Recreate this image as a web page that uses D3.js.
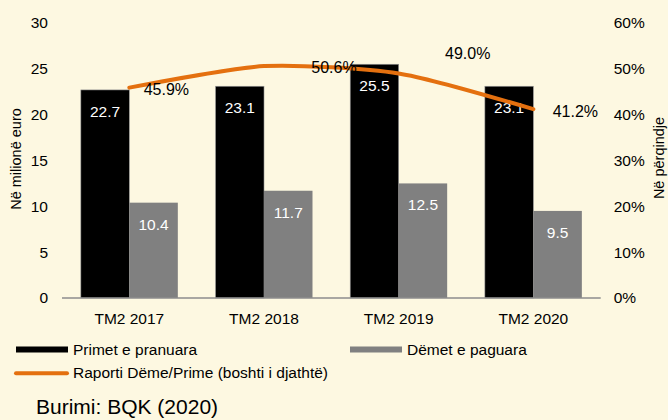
<!DOCTYPE html>
<html>
<head>
<meta charset="utf-8">
<script src="https://cdn.jsdelivr.net/npm/d3@7"></script>
<style>
  body { margin: 0; background: #fdf8e1; }
  svg { display: block; font-family: "Liberation Sans", Arial, sans-serif; }
</style>
</head>
<body>
<div class="canvas"></div>
<script>
const categories = ["TM2 2017", "TM2 2018", "TM2 2019", "TM2 2020"];
const primet = [22.7, 23.1, 25.5, 23.1];
const demet = [10.4, 11.7, 12.5, 9.5];
const raporti = [45.9, 50.6, 49.0, 41.2];
const leftTicks = [0, 5, 10, 15, 20, 25, 30];
const rightTicks = [0, 10, 20, 30, 40, 50, 60];

const dims = { w: 668, h: 420 };
const plot = { left: 62, right: 600.7, top: 23, bottom: 298 };

// label placement for the ratio line (dx, dy from the point)
const ratioLabelShift = [[37, 1], [70, 1], [69, -20], [42, 2]];

const svg = d3
  .select(".canvas")
  .append("svg")
  .attr("width", dims.w)
  .attr("height", dims.h);

svg.append("rect")
  .attr("width", dims.w)
  .attr("height", dims.h)
  .attr("fill", "#fdf8e1");

const x0 = d3
  .scaleBand()
  .domain(categories)
  .range([plot.left, plot.right])
  .paddingInner(0.28)
  .paddingOuter(0.14);

const x1 = d3
  .scaleBand()
  .domain(["primet", "demet"])
  .range([0, x0.bandwidth()]);

const yL = d3.scaleLinear().domain([0, 30]).range([plot.bottom, plot.top]);
const yR = d3.scaleLinear().domain([0, 60]).range([plot.bottom, plot.top]);

const fs = 15.5;

// left axis
const leftAxis = svg.append("g")
  .attr("transform", `translate(${plot.left}, 0)`)
  .call(d3.axisLeft(yL).tickValues(leftTicks).tickSize(0).tickPadding(14));
leftAxis.select(".domain").remove();
leftAxis.selectAll("text").attr("font-size", fs).attr("fill", "#000").attr("font-family", "Liberation Sans, Arial, sans-serif");

// right axis
const rightAxis = svg.append("g")
  .attr("transform", `translate(${plot.right}, 0)`)
  .call(d3.axisRight(yR).tickValues(rightTicks).tickSize(0).tickPadding(13).tickFormat(d => d + "%"));
rightAxis.select(".domain").remove();
rightAxis.selectAll("text").attr("font-size", fs).attr("fill", "#000").attr("font-family", "Liberation Sans, Arial, sans-serif");

// bars
const groups = svg.append("g")
  .selectAll("g")
  .data(categories)
  .join("g")
  .attr("transform", d => `translate(${x0(d)}, 0)`);

groups.append("rect")
  .attr("x", x1("primet"))
  .attr("y", (d, i) => yL(primet[i]))
  .attr("width", x1.bandwidth())
  .attr("height", (d, i) => yL(0) - yL(primet[i]))
  .attr("fill", "#000")
  .attr("stroke", "#9a9a9a")
  .attr("stroke-width", 0.6);

groups.append("rect")
  .attr("x", x1("demet"))
  .attr("y", (d, i) => yL(demet[i]))
  .attr("width", x1.bandwidth())
  .attr("height", (d, i) => yL(0) - yL(demet[i]))
  .attr("fill", "#808080");

groups.append("text")
  .attr("x", x1("primet") + x1.bandwidth() / 2)
  .attr("y", (d, i) => yL(primet[i]) + 27)
  .attr("text-anchor", "middle")
  .attr("font-size", fs)
  .attr("fill", "#fff")
  .text((d, i) => primet[i].toFixed(1));

groups.append("text")
  .attr("x", x1("demet") + x1.bandwidth() / 2)
  .attr("y", (d, i) => yL(demet[i]) + 27)
  .attr("text-anchor", "middle")
  .attr("font-size", fs)
  .attr("fill", "#fff")
  .text((d, i) => demet[i].toFixed(1));

// x axis line
svg.append("line")
  .attr("x1", plot.left)
  .attr("x2", plot.right)
  .attr("y1", yL(0))
  .attr("y2", yL(0))
  .attr("stroke", "#8c8c8c")
  .attr("stroke-width", 1.5);

svg.append("g")
  .selectAll("text")
  .data(categories)
  .join("text")
  .attr("x", d => x0(d) + x0.bandwidth() / 2)
  .attr("y", 324)
  .attr("text-anchor", "middle")
  .attr("font-size", fs)
  .text(d => d);

// ratio line
const cx = d => x0(d) + x0.bandwidth() / 2;
const line = d3
  .line()
  .x((d, i) => cx(categories[i]))
  .y(d => yR(d))
  .curve(d3.curveCardinal.tension(0.3));

svg.append("path")
  .datum(raporti)
  .attr("d", line)
  .attr("fill", "none")
  .attr("stroke", "#e4700f")
  .attr("stroke-width", 4)
  .attr("stroke-linecap", "round");

svg.append("g")
  .selectAll("text")
  .data(raporti)
  .join("text")
  .attr("x", (d, i) => cx(categories[i]) + ratioLabelShift[i][0])
  .attr("y", (d, i) => yR(d) + ratioLabelShift[i][1] + 6)
  .attr("text-anchor", "middle")
  .attr("font-size", fs + 0.5)
  .text(d => d.toFixed(1) + "%");

// axis titles
svg.append("text")
  .attr("transform", "translate(21, 159) rotate(-90)")
  .attr("text-anchor", "middle")
  .attr("font-size", 14.5)
  .text("Në milionë euro");

svg.append("text")
  .attr("transform", "translate(663.5, 158) rotate(-90)")
  .attr("text-anchor", "middle")
  .attr("font-size", 14.5)
  .text("Në përqindje");

// legend
const legend = svg.append("g");
legend.append("rect").attr("x", 16).attr("y", 346.5).attr("width", 52).attr("height", 6).attr("fill", "#000");
legend.append("text").attr("x", 73).attr("y", 355).attr("font-size", fs).text("Primet e pranuara");
legend.append("rect").attr("x", 350).attr("y", 346.5).attr("width", 52).attr("height", 6).attr("fill", "#808080");
legend.append("text").attr("x", 407).attr("y", 355).attr("font-size", fs).text("Dëmet e paguara");
legend.append("line").attr("x1", 16).attr("x2", 67).attr("y1", 373.3).attr("y2", 373.3)
  .attr("stroke", "#e4700f").attr("stroke-width", 4).attr("stroke-linecap", "round");
legend.append("text").attr("x", 73).attr("y", 378).attr("font-size", fs).text("Raporti Dëme/Prime (boshti i djathtë)");

// source
svg.append("text")
  .attr("x", 36)
  .attr("y", 414)
  .attr("font-size", 21)
  .text("Burimi: BQK (2020)");
</script>
</body>
</html>
